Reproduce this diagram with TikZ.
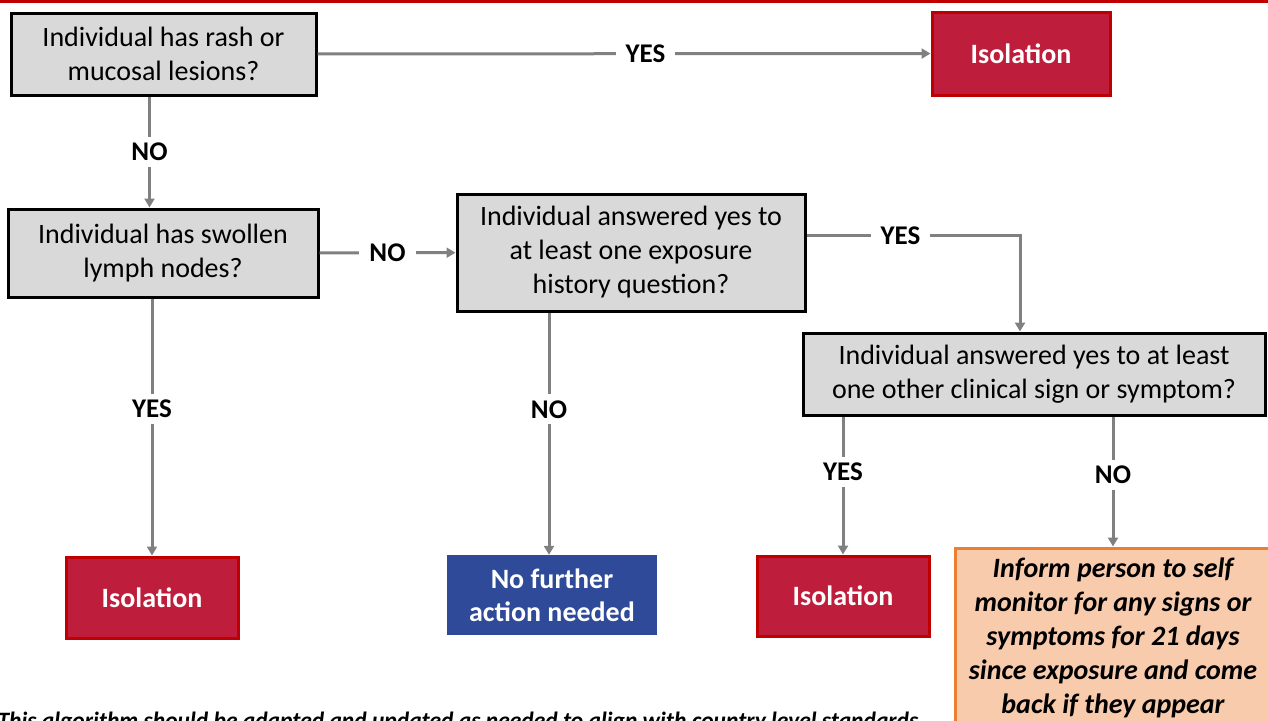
\documentclass[tikz,border=0pt]{standalone}
\usepackage{fontspec}
\setmainfont{Carlito}
\usetikzlibrary{positioning,arrows.meta,calc}
\definecolor{boxgray}{HTML}{D9D9D9}
\definecolor{linegray}{HTML}{808080}
\definecolor{isored}{HTML}{BE1E3C}
\definecolor{isoedge}{HTML}{C00000}
\definecolor{actblue}{HTML}{2E4A98}
\definecolor{monfill}{HTML}{F8CBAD}
\definecolor{monedge}{HTML}{ED7D31}
\tikzset{
question/.style={draw=black, line width=3pt, fill=boxgray, align=center,
  font=\fontsize{28}{34}\selectfont, inner sep=0pt},
isolation/.style={draw=isoedge, line width=3pt, fill=isored, text=white,
  font=\fontsize{28}{34}\selectfont\bfseries, align=center, inner sep=0pt},
noaction/.style={fill=actblue, text=white, align=center,
  font=\fontsize{28}{33}\selectfont\bfseries, inner sep=0pt},
monitor/.style={draw=monedge, line width=3pt, fill=monfill, align=center,
  font=\fontsize{28}{34}\selectfont\bfseries\itshape, inner sep=0pt},
answer/.style={fill=white, font=\fontsize{27}{30}\selectfont\bfseries,
  inner xsep=10pt, inner ysep=6pt},
flow/.style={draw=linegray, line width=3pt, -{Triangle[length=9pt,width=10pt]}},
}
\begin{document}
\begin{tikzpicture}[x=1pt,y=-1pt]
\useasboundingbox (0,0) rectangle (1268,720);
\fill[isoedge] (0,0) rectangle (1268,3);

% questions
\node[question, minimum width=305pt, minimum height=82pt] (rash) at (163.5,54)
  {Individual has rash or\\mucosal lesions?};
\node[question, minimum width=310pt, minimum height=88pt] (lymph) at (163,253)
  {Individual has swollen\\lymph nodes?};
\node[question, minimum width=348pt, minimum height=117pt] (expo) at (631,252.5)
  {Individual answered yes to\\at least one exposure\\history question?};
\node[question, minimum width=462pt, minimum height=82pt] (sign) at (1034,374)
  {Individual answered yes to at least\\one other clinical sign or symptom?};

% outcomes
\node[isolation, minimum width=178pt, minimum height=83pt] (iso1) at (1021,53.5) {Isolation};
\node[isolation, minimum width=172pt, minimum height=81pt] (iso2) at (152,597.5) {Isolation};
\node[noaction, minimum width=210pt, minimum height=80pt] (nofurther) at (552,595)
  {No further\\action needed};
\node[isolation, minimum width=172pt, minimum height=80pt] (iso3) at (843,596) {Isolation};
\node[monitor, minimum width=316pt, minimum height=180pt] (selfmon) at (1113,638)
  {Inform person to self\\monitor for any signs or\\symptoms for 21 days\\since exposure and come\\back if they appear};

\node[anchor=base west, font=\fontsize{23.5}{26}\selectfont\bfseries\itshape] (note) at (-6,728)
  {This algorithm should be adapted and updated as needed to align with country level standards};

% bends and drop points
\coordinate (nocol) at (549,0);
\coordinate (yescol) at (1020,0);

% connectors
\draw[flow] (rash) -- node[answer, pos=0.535] {YES} (iso1);
\draw[flow] ([xshift=-14pt]rash.south) -- node[answer] {NO} ([xshift=-14pt]rash.south |- lymph.north);
\draw[flow] (lymph) -- node[answer] {NO} (expo);
\draw[flow] (lymph.south -| iso2) -- node[answer, pos=0.43] {YES} (iso2);
\draw[flow] (expo.south -| nocol) -- node[answer, pos=0.4] {NO} (nofurther.north -| nocol);
\draw[flow] ([yshift=17pt]expo.east) -- node[answer, pos=0.44] {YES} ([yshift=17pt]expo.east -| yescol) -- (sign.north -| yescol);
\draw[flow] (sign.south -| iso3) -- node[answer, pos=0.4] {YES} (iso3);
\draw[flow] (sign.south -| selfmon) -- node[answer, pos=0.45] {NO} (selfmon);
\end{tikzpicture}
\end{document}
